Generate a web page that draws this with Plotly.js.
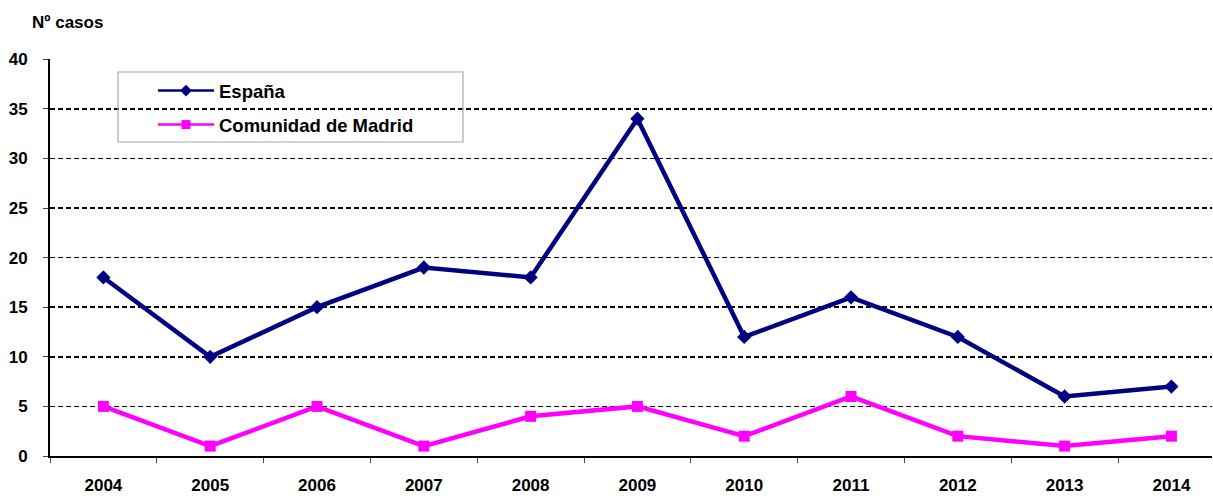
<!DOCTYPE html>
<html><head><meta charset="utf-8">
<script src="https://cdn.plot.ly/plotly-3.0.1.min.js"></script>
<style>html,body{margin:0;padding:0;background:#fff;overflow:hidden}</style>
</head><body><div id="chart" style="width:1213px;height:496px"></div>
<script>
const years = ['2004','2005','2006','2007','2008','2009','2010','2011','2012','2013','2014'];
const espana = [18,10,15,19,18,34,12,16,12,6,7];
const madrid = [5,1,5,1,4,5,2,6,2,1,2];
const yTicks = [0,5,10,15,20,25,30,35,40];
const seriesNames = ['España', 'Comunidad de Madrid'];
const seriesColors = ['#000080', '#FF00FF'];
const seriesSymbols = ['diamond', 'square'];

const fontFam = '"Liberation Sans", Arial, sans-serif';
const seriesData = [espana, madrid];
const traces = [];
seriesData.forEach((vals, i) => {
  traces.push({x: years, y: vals, name: seriesNames[i], type: 'scatter', mode: 'lines+markers',
    line: {color: seriesColors[i], width: 4.5},
    marker: {symbol: seriesSymbols[i], size: 11, color: seriesColors[i]},
    showlegend: false, cliponaxis: false});
});
// legend entries (thinner symbols as in the original legend)
seriesData.forEach((vals, i) => {
  traces.push({x: [null], y: [null], name: seriesNames[i], type: 'scatter', mode: 'lines+markers',
    line: {color: seriesColors[i], width: 2.5},
    marker: {symbol: seriesSymbols[i], size: 9, color: seriesColors[i]},
    legendgroup: 'g' + i, showlegend: true});
});
const plotW = 1162, plotH = 397;
const layout = {
  width: 1213, height: 496,
  margin: {l: 50, r: 1, t: 59, b: 40},
  paper_bgcolor: '#fff', plot_bgcolor: '#fff',
  font: {family: fontFam, color: '#000'},
  title: {text: '<b>Nº casos</b>', x: 32/1213, xanchor: 'left', xref: 'container',
          y: 1 - 22/496, yanchor: 'middle', yref: 'container', font: {size: 17, color: '#000'}},
  xaxis: {type: 'category', range: [-0.5, 10.38], showgrid: false,
          showline: true, linecolor: '#000', linewidth: 2, zeroline: false,
          ticks: 'outside', ticklen: 5, tickcolor: '#444', tickwidth: 1,
          tickson: 'boundaries', ticklabelstandoff: 13,
          tickfont: {size: 17, family: fontFam, weight: 'bold'}},
  yaxis: {range: [0, 40.02], tickvals: yTicks, showgrid: true, gridcolor: '#000', gridwidth: 1.6,
          griddash: '5px,3px', showline: true, linecolor: '#000', linewidth: 2, zeroline: false,
          ticks: 'outside', ticklen: 5, tickcolor: '#444', ticklabelstandoff: 12,
          tickfont: {size: 17, family: fontFam, weight: 'bold'}},
  showlegend: true,
  legend: {x: 68/plotW, y: (456-72)/plotH, xanchor: 'left', yanchor: 'top',
           bgcolor: 'rgba(0,0,0,0)', borderwidth: 0,
           font: {size: 18.5, family: fontFam, weight: 'bold', color: '#000'},
           traceorder: 'grouped', tracegroupgap: 7, indentation: 35,
           itemwidth: 56},
  shapes: [{type: 'rect', xref: 'paper', yref: 'paper',
            x0: 68/plotW, x1: 413/plotW, y0: (456-142)/plotH, y1: (456-72)/plotH,
            line: {color: '#aaa', width: 1.2}, fillcolor: 'rgba(0,0,0,0)'}]
};
Plotly.newPlot('chart', traces, layout, {displayModeBar: false, staticPlot: true});
</script></body></html>
